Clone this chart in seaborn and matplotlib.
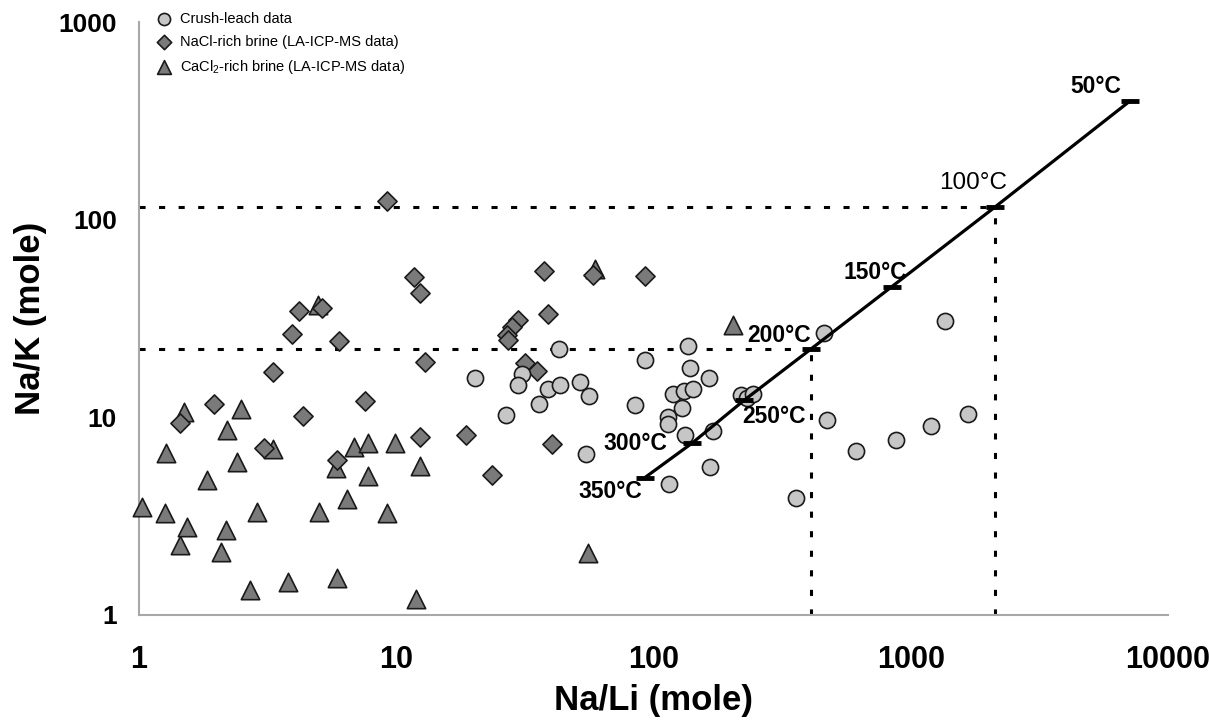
import numpy as np
import pandas as pd
import seaborn as sns
import matplotlib.pyplot as plt
from matplotlib import ticker

# Crush-leach data (Na/Li, Na/K)
crush_nali = [43.0, 20.2, 30.7, 29.8, 39.0, 43.3, 36.0, 26.8, 51.8, 56.1, 54.5, 84.8, 92.7,
              136, 139, 164, 119, 131, 142, 129, 114, 114, 133, 171, 166, 115,
              218, 230, 244, 460, 471, 358, 612, 877, 1196, 1675, 1359]
crush_nak = [22.3, 15.8, 16.5, 14.5, 13.9, 14.5, 11.7, 10.3, 15.1, 12.8, 6.55, 11.5, 19.5,
             22.9, 17.8, 15.9, 13.2, 13.6, 13.9, 11.2, 10.0, 9.25, 8.1, 8.55, 5.6, 4.6,
             13.0, 12.6, 13.2, 26.6, 9.7, 3.9, 6.75, 7.7, 9.0, 10.4, 30.7]

# NaCl-rich brine (LA-ICP-MS)
nacl_nali = [1.44, 1.96, 3.06, 3.31, 3.92, 4.20, 4.33, 5.13, 5.87, 6.01, 7.56, 11.7, 12.4,
             12.9, 12.4, 9.23, 29.8, 28.1, 26.9, 27.3, 31.7, 18.7, 23.6, 37.5, 58.3, 92.7,
             38.8, 35.2, 40.4]
nacl_nak = [9.4, 11.7, 7.0, 17.0, 26.4, 34.5, 10.2, 35.6, 6.1, 24.4, 12.1, 51.4, 42.7,
            19.1, 8.0, 124.7, 31.1, 28.7, 26.1, 24.6, 18.8, 8.1, 5.1, 55.0, 52.5, 51.8,
            33.3, 17.2, 7.3]

# CaCl2-rich brine (LA-ICP-MS)
cacl_nali = [1.03, 1.26, 1.27, 1.44, 1.54, 1.49, 1.84, 2.08, 2.18, 2.19, 2.40, 2.49, 2.70,
             2.88, 3.31, 3.79, 4.98, 5.02, 5.83, 5.90, 6.45, 6.85, 7.79, 7.80, 9.18, 9.89,
             12.4, 11.9, 59.3, 55.8, 204]
cacl_nak = [3.52, 3.27, 6.58, 2.26, 2.80, 10.7, 4.82, 2.09, 2.69, 8.62, 5.97, 11.0, 1.34,
            3.33, 6.89, 1.47, 37.0, 3.33, 5.52, 1.53, 3.85, 7.05, 7.44, 5.05, 3.29, 7.44,
            5.67, 1.20, 56.7, 2.05, 29.3]

# geothermometer line, temperature marks
temp_labels = ['350°C', '300°C', '250°C', '200°C', '150°C', '100°C', '50°C']
temp_nali = [92.7, 141, 225, 408, 843, 2125, 7110]
temp_nak = [4.96, 7.39, 12.2, 22.1, 45.8, 116, 399]

sns.set_theme(style='white')
plt.rcParams['font.family'] = ['Liberation Sans', 'DejaVu Sans']
plt.rcParams['mathtext.fontset'] = 'custom'
plt.rcParams['mathtext.rm'] = 'Liberation Sans'
plt.rcParams['mathtext.it'] = 'Liberation Sans:italic'
for key in ['text.color', 'axes.labelcolor', 'xtick.labelcolor', 'ytick.labelcolor']:
    plt.rcParams[key] = 'black'

fig = plt.figure(figsize=(12.09, 7.2), dpi=100)
ax = fig.add_axes([0.115, 0.146, 0.851, 0.823])

crush = pd.DataFrame({'nali': crush_nali, 'nak': crush_nak})
nacl = pd.DataFrame({'nali': nacl_nali, 'nak': nacl_nak})
cacl = pd.DataFrame({'nali': cacl_nali, 'nak': cacl_nak})

# dotted guide lines at 200 and 100 degC
for i in [3, 5]:
    ax.plot([1, temp_nali[i]], [temp_nak[i], temp_nak[i]], color='black', lw=2.2,
            ls=(0, (2.0, 4.4)), dash_capstyle='butt', zorder=1)
    ax.plot([temp_nali[i], temp_nali[i]], [1, temp_nak[i]], color='black', lw=2.2,
            ls=(0, (2.0, 4.4)), dash_capstyle='butt', zorder=1)

sns.scatterplot(data=cacl, x='nali', y='nak', marker='^', s=175, color='#7a7a7a',
                edgecolor='#1a1a1a', linewidth=1.2, clip_on=False, zorder=3,
                label=r'CaCl$_2$-rich brine (LA-ICP-MS data)', ax=ax)
sns.scatterplot(data=nacl, x='nali', y='nak', marker='D', s=95, color='#7a7a7a',
                edgecolor='#1a1a1a', linewidth=1.2, clip_on=False, zorder=3,
                label='NaCl-rich brine (LA-ICP-MS data)', ax=ax)
sns.scatterplot(data=crush, x='nali', y='nak', marker='o', s=135, color='#c6c6c6',
                edgecolor='#1a1a1a', linewidth=1.2, clip_on=False, zorder=3,
                label='Crush-leach data', ax=ax)

# geothermometer line with temperature marks
ax.plot(temp_nali, temp_nak, color='black', lw=2.3, zorder=4)
ax.plot(temp_nali, temp_nak, ls='none', marker='_', ms=13, mew=3.5, color='black', zorder=4)

# (dx, dy, ha) in points from each mark
label_pos = {
    '350°C': (-2, -10, 'right'), '300°C': (-18, 0, 'right'), '250°C': (-1, -12, 'left'),
    '200°C': (0, 10, 'right'), '150°C': (11, 10, 'right'), '100°C': (9, 17, 'right'),
    '50°C': (-6, 10.5, 'right'),
}
for lab, xv, yv in zip(temp_labels, temp_nali, temp_nak):
    dx, dy, ha = label_pos[lab]
    weight = 'normal' if lab == '100°C' else 'bold'
    size = 17.5 if lab == '100°C' else 16.5
    ax.annotate(lab, (xv, yv), xytext=(dx, dy), textcoords='offset points',
                ha=ha, va='center', fontsize=size, fontweight=weight, zorder=5)

ax.set_xscale('log')
ax.set_yscale('log')
ax.set_xlim(1, 10000)
ax.set_ylim(1, 1000)

fmt = ticker.FuncFormatter(lambda v, p: f'{v:g}')
ax.xaxis.set_major_formatter(fmt)
ax.yaxis.set_major_formatter(fmt)
ax.xaxis.set_minor_formatter(ticker.NullFormatter())
ax.yaxis.set_minor_formatter(ticker.NullFormatter())

for side in ['top', 'right']:
    ax.spines[side].set_visible(False)
for side in ['left', 'bottom']:
    ax.spines[side].set_color('#a8a8a8')
    ax.spines[side].set_linewidth(1.5)

ax.tick_params(which='both', direction='out', color='#a8a8a8', width=1)
ax.tick_params(which='major', length=7)
ax.tick_params(which='minor', length=6)
ax.tick_params(axis='x', which='major', pad=15, labelsize=22)
ax.tick_params(axis='y', which='major', pad=9, labelsize=19)
for t in ax.get_xticklabels() + ax.get_yticklabels():
    t.set_fontweight('bold')

ax.set_xlabel('Na/Li (mole)', fontsize=25, fontweight='bold', labelpad=6)
ax.set_ylabel('Na/K (mole)', fontsize=25, fontweight='bold', labelpad=8)

handles, labels = ax.get_legend_handles_labels()
ax.legend(handles[::-1], labels[::-1], loc='upper left', bbox_to_anchor=(0.0, 1.035),
          frameon=False, fontsize=10.5, markerscale=0.75, handletextpad=0.1,
          labelspacing=0.62, borderaxespad=0.3)

fig.savefig('out.png', dpi=100)
